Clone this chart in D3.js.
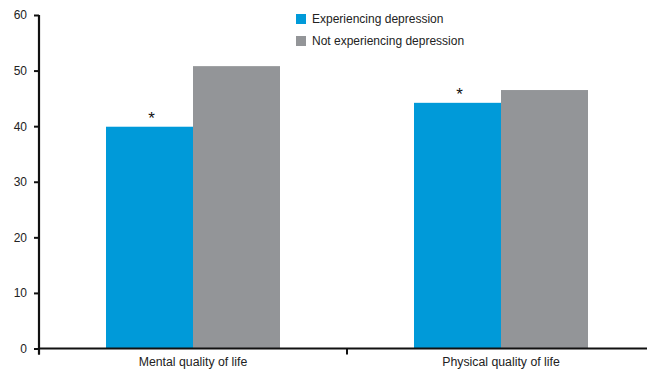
<!DOCTYPE html>
<html><head><meta charset="utf-8">
<script src="https://cdn.jsdelivr.net/npm/d3@7"></script>
<style>
body{margin:0;background:#fff;}
text{font-family:"Liberation Sans",Arial,Helvetica,sans-serif;fill:#222;}
</style></head>
<body>
<svg id="c" width="647" height="372"></svg>
<script>
const categories = ["Mental quality of life", "Physical quality of life"];
const seriesNames = ["Experiencing depression", "Not experiencing depression"];
const depressed = [39.9, 44.2];
const notDepressed = [50.8, 46.5];
const significant = [true, true];
const yTicks = [0, 10, 20, 30, 40, 50, 60];
const colors = ["#009ad9", "#939598"];

const svg = d3.select("#c");
const margin = {left: 39, top: 15, bottom: 348.5};
const x0 = d3.scaleBand().domain(categories).range([margin.left, 655]).paddingInner(0).paddingOuter(0);
const x1 = d3.scaleBand().domain(seriesNames).range([0, x0.bandwidth()]).paddingInner(0).paddingOuter(0.77);
const y = d3.scaleLinear().domain([0, 60]).range([margin.bottom, margin.top]);
const color = d3.scaleOrdinal().domain(seriesNames).range(colors);

const rows = categories.map((c, i) => ({cat: c, vals: [depressed[i], notDepressed[i]], sig: significant[i]}));

// bars
const g = svg.append("g");
rows.forEach(r => {
  r.vals.forEach((v, j) => {
    g.append("rect")
      .attr("x", x0(r.cat) + x1(seriesNames[j]))
      .attr("y", y(v))
      .attr("width", x1.bandwidth())
      .attr("height", y(0) - y(v))
      .attr("fill", color(seriesNames[j]));
  });
  if (r.sig) {
    g.append("text")
      .attr("x", x0(r.cat) + x1(seriesNames[0]) + x1.bandwidth() / 2 + 2)
      .attr("y", y(r.vals[0]) - 3)
      .attr("text-anchor", "middle")
      .attr("font-size", 17)
      .style("fill", "#111")
      .text("*");
  }
});

// y axis
const yAxis = svg.append("g").attr("transform", `translate(${margin.left},0)`)
  .call(d3.axisLeft(y).tickValues(yTicks).tickSize(5).tickPadding(7));
yAxis.select(".domain").remove();
yAxis.selectAll(".tick line").attr("stroke", "#111").attr("stroke-width", 2);
yAxis.selectAll(".tick text").attr("font-size", 12).style("fill", "#222")
  .attr("font-family", "Liberation Sans, Arial, sans-serif");
svg.append("line").attr("x1", margin.left).attr("x2", margin.left)
  .attr("y1", y(60)).attr("y2", y(0) + 6).attr("stroke", "#111").attr("stroke-width", 2.2);

// x axis
svg.append("line").attr("x1", margin.left).attr("x2", 655)
  .attr("y1", y(0)).attr("y2", y(0)).attr("stroke", "#111").attr("stroke-width", 2.2);
const bounds = categories.map(c => x0(c)).concat([x0(categories[categories.length - 1]) + x0.bandwidth()]);
bounds.forEach(b => {
  svg.append("line").attr("x1", b).attr("x2", b).attr("y1", y(0)).attr("y2", y(0) + 6)
    .attr("stroke", "#111").attr("stroke-width", 2);
});
categories.forEach(c => {
  svg.append("text").attr("x", x0(c) + x0.bandwidth() / 2).attr("y", 366)
    .attr("text-anchor", "middle").attr("font-size", 12.3).text(c);
});

// legend
const leg = svg.append("g").attr("transform", "translate(296,14)");
seriesNames.forEach((s, i) => {
  const row = leg.append("g").attr("transform", `translate(0,${i * 22})`);
  row.append("rect").attr("width", 10).attr("height", 10).attr("fill", color(s));
  row.append("text").attr("x", 16).attr("y", 9).attr("font-size", 12).text(s);
});
</script>
</body></html>
